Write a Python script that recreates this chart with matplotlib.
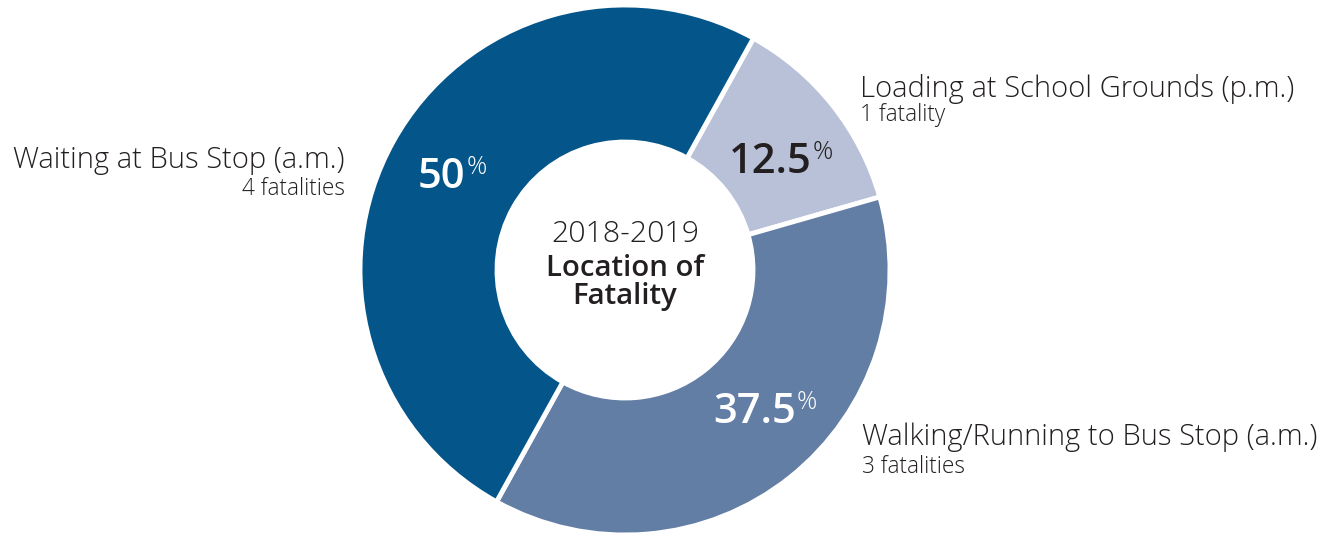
import matplotlib
matplotlib.use("Agg")
from matplotlib import pyplot as plt

plt.rcParams['font.family'] = ['Open Sans', 'DejaVu Sans']

# data
labels = ['Loading at School Grounds (p.m.)', 'Walking/Running to Bus Stop (a.m.)', 'Waiting at Bus Stop (a.m.)']
counts = [1, 3, 4]
sub_labels = ['1 fatality', '3 fatalities', '4 fatalities']
pct_text = ['12.5', '37.5', '50']
colors = ['#b8c1d7', '#627ea5', '#03558a']
pct_colors = ['#231f20', 'white', 'white']

W, H = 1341, 535
fig = plt.figure(figsize=(W / 100, H / 100), dpi=100)
ax = fig.add_axes([0, 0, 1, 1])

cx, cy, r = 625, 265, 265
wedges, _ = ax.pie(counts, colors=colors, startangle=61, counterclock=False,
                   center=(cx, cy), radius=r, frame=True,
                   wedgeprops=dict(width=137, edgecolor='white', linewidth=3.5))
ax.set_xlim(0, W)
ax.set_ylim(0, H)
ax.set_aspect('equal')
ax.axis('off')

dark = '#231f20'
# center title
ax.text(cx, H - 242, '2018-2019', ha='center', va='baseline', fontsize=21.8,
        color=dark, fontweight='light')
ax.text(cx, H - 276, 'Location of', ha='center', va='baseline', fontsize=21.2,
        color=dark, fontweight='semibold')
ax.text(cx, H - 304, 'Fatality', ha='center', va='baseline', fontsize=21.2,
        color=dark, fontweight='semibold')

# outside labels: (x, baseline main, baseline sub, ha)
lab_pos = [(860, 97, 121, 'left'), (862, 445, 473, 'left'), (345, 168, 195, 'right')]
for (x, y1, y2, ha), lab, sub in zip(lab_pos, labels, sub_labels):
    ax.text(x, H - y1, lab, ha=ha, va='baseline', fontsize=21, color=dark,
            fontweight='light')
    ax.text(x, H - y2, sub, ha=ha, va='baseline', fontsize=16.3, color=dark,
            fontweight='light')

# percentages inside wedges: (left x, baseline)
pct_pos = [(729, 173), (713, 423), (418, 188)]
fig.canvas.draw()
renderer = fig.canvas.get_renderer()
for (x, y), t, c in zip(pct_pos, pct_text, pct_colors):
    num = ax.text(x, H - y, t, ha='left', va='baseline', fontsize=30,
                  color=c, fontweight='semibold')
    bb = num.get_window_extent(renderer=renderer)
    x_end = ax.transData.inverted().transform((bb.x1, 0))[0]
    ax.text(x_end + 1, H - y + 14, '%', ha='left', va='baseline', fontsize=18,
            color=c, fontweight='light')

fig.savefig('out.png', dpi=100, facecolor='white')
